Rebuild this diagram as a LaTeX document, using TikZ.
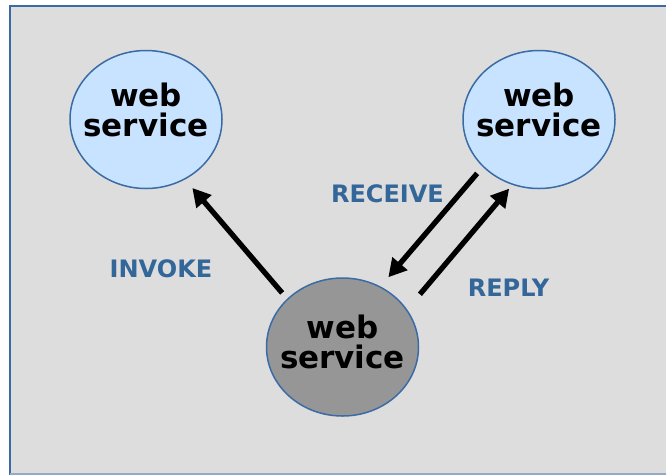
\documentclass[tikz,border=0pt]{standalone}
\usepackage{fontspec}
\setmainfont{DejaVu Sans}
\usetikzlibrary{arrows.meta,shapes.geometric}
\definecolor{panel}{HTML}{DDDDDD}
\definecolor{frame}{HTML}{3A6BA5}
\definecolor{svcblue}{HTML}{C7E3FF}
\definecolor{svcgray}{HTML}{969696}
\definecolor{msg}{HTML}{336699}
\begin{document}
\begin{tikzpicture}[x=1pt,y=-1pt,
  service/.style={ellipse, draw=frame, line width=1.5pt, minimum width=152pt,
    minimum height=138pt, inner sep=0pt, outer sep=0pt},
  svctext/.style={font=\fontsize{31}{30}\selectfont\bfseries, align=center, inner sep=0pt},
  msglabel/.style={font=\fontsize{24}{26}\selectfont\bfseries, text=msg, inner sep=0pt, anchor=base},
  flow/.style={line width=5.3pt, -{Triangle[length=18pt,width=19pt]}}]
% page and grey panel
\useasboundingbox (0,0) rectangle (666,475);
\fill[white] (0,0) rectangle (666,475);
\begin{scope}
  \clip (0,0) rectangle (666,475);
  \draw[frame, fill=panel, line width=2pt] (10,6) rectangle (700,474);
  \draw[frame!45!panel, line width=2pt] (10,474) -- (700,474);
\end{scope}
% the three services
\node[service, fill=svcblue] (ws1) at (146,119.5) {};
\node[service, fill=svcblue] (ws2) at (539,119.5) {};
\node[service, fill=svcgray] (ws3) at (342.5,347) {};
\node[svctext] (ws1t) at (146,109.7) {web\\service};
\node[svctext] (ws2t) at (539,109.7) {web\\service};
\node[svctext] (ws3t) at (342.5,341.5) {web\\service};
% message flows
\draw[flow, shorten <=8.4pt, shorten >=11.9pt] (ws3.139.46) -- (ws1.-57.58);
\draw[flow, shorten <=9.3pt, shorten >=12.8pt] (ws2.220.69) -- (ws3.58.06);
\draw[flow, shorten <=20.6pt, shorten >=5.7pt] (ws3.30.89) -- (ws2.-112.75);
% flow labels
\node[msglabel] (invoke) at (161,277) {INVOKE};
\node[msglabel] (receive) at (387.5,202) {RECEIVE};
\node[msglabel] (reply) at (508.5,296) {REPLY};
\end{tikzpicture}
\end{document}
